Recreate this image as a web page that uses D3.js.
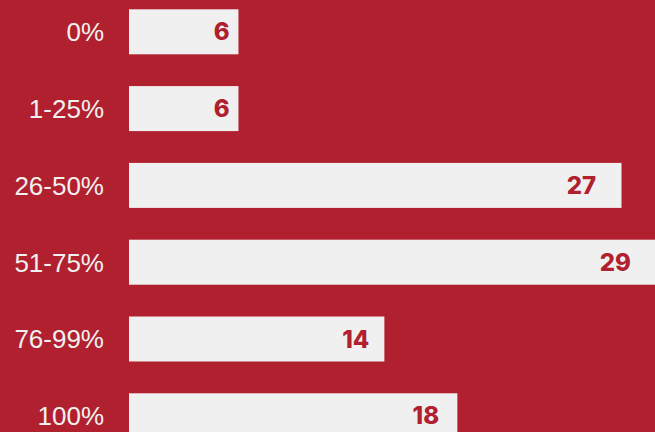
<!DOCTYPE html>
<html>
<head>
<meta charset="utf-8">
<script src="https://cdn.jsdelivr.net/npm/d3@7"></script>
<style>
    html, body { margin: 0; padding: 0; background: #B0202E; overflow: hidden; }
    svg { display: block; }
</style>
</head>
<body>
<div class="graph-one"></div>
<script>
const categories = ["0%", "1-25%", "26-50%", "51-75%", "76-99%", "100%"];
const counts = [6, 6, 27, 29, 14, 18];

const bgColor = "#B0202E";
const barColor = "#F0F0F0";

function barChartGenerator(width, height) {
    const data = categories.map((c, i) => ({ label: c, value: counts[i] }));

    let scale_x = d3.scaleLinear()
        .domain([0, d3.max(counts)])
        .range([129, 658]);

    // value labels sit a bit inside the bar end
    let scale_label = d3.scaleLinear()
        .domain([0, d3.max(counts)])
        .range([125, 631]);

    let scale_y = d3.scaleBand()
        .domain(categories)
        .range([9.3, 438.3])
        .paddingInner(0.414)
        .paddingOuter(0);

    let svg = d3.select(".graph-one")
        .append("svg")
        .attr("width", width)
        .attr("height", height);

    svg.append("rect")
        .attr("width", width)
        .attr("height", height)
        .attr("fill", bgColor);

    let bars = svg.append("g")
        .selectAll("g")
        .data(data)
        .join("g");

    bars.append("rect")
        .attr("fill", barColor)
        .attr("x", scale_x(0))
        .attr("y", d => scale_y(d.label))
        .attr("width", d => scale_x(d.value) - scale_x(0))
        .attr("height", scale_y.bandwidth());

    bars.append("text")
        .text(d => d.value)
        .attr("fill", bgColor)
        .attr("font-family", "Inter, Lato, sans-serif")
        .attr("font-weight", 800)
        .attr("font-size", 24)
        .attr("text-anchor", "end")
        .attr("x", d => scale_label(d.value))
        .attr("y", d => scale_y(d.label) + scale_y.bandwidth() / 2)
        .attr("dy", "0.36em");

    let axis = svg.append("g")
        .attr("transform", "translate(104,0)")
        .call(d3.axisLeft(scale_y).tickSize(0).tickPadding(0));

    axis.select(".domain").remove();
    axis.selectAll("text")
        .attr("fill", barColor)
        .attr("font-family", "'Liberation Sans', Arial, sans-serif")
        .attr("font-size", 26)
        .attr("dy", "0.36em");
}

barChartGenerator(655, 432);
</script>
</body>
</html>
